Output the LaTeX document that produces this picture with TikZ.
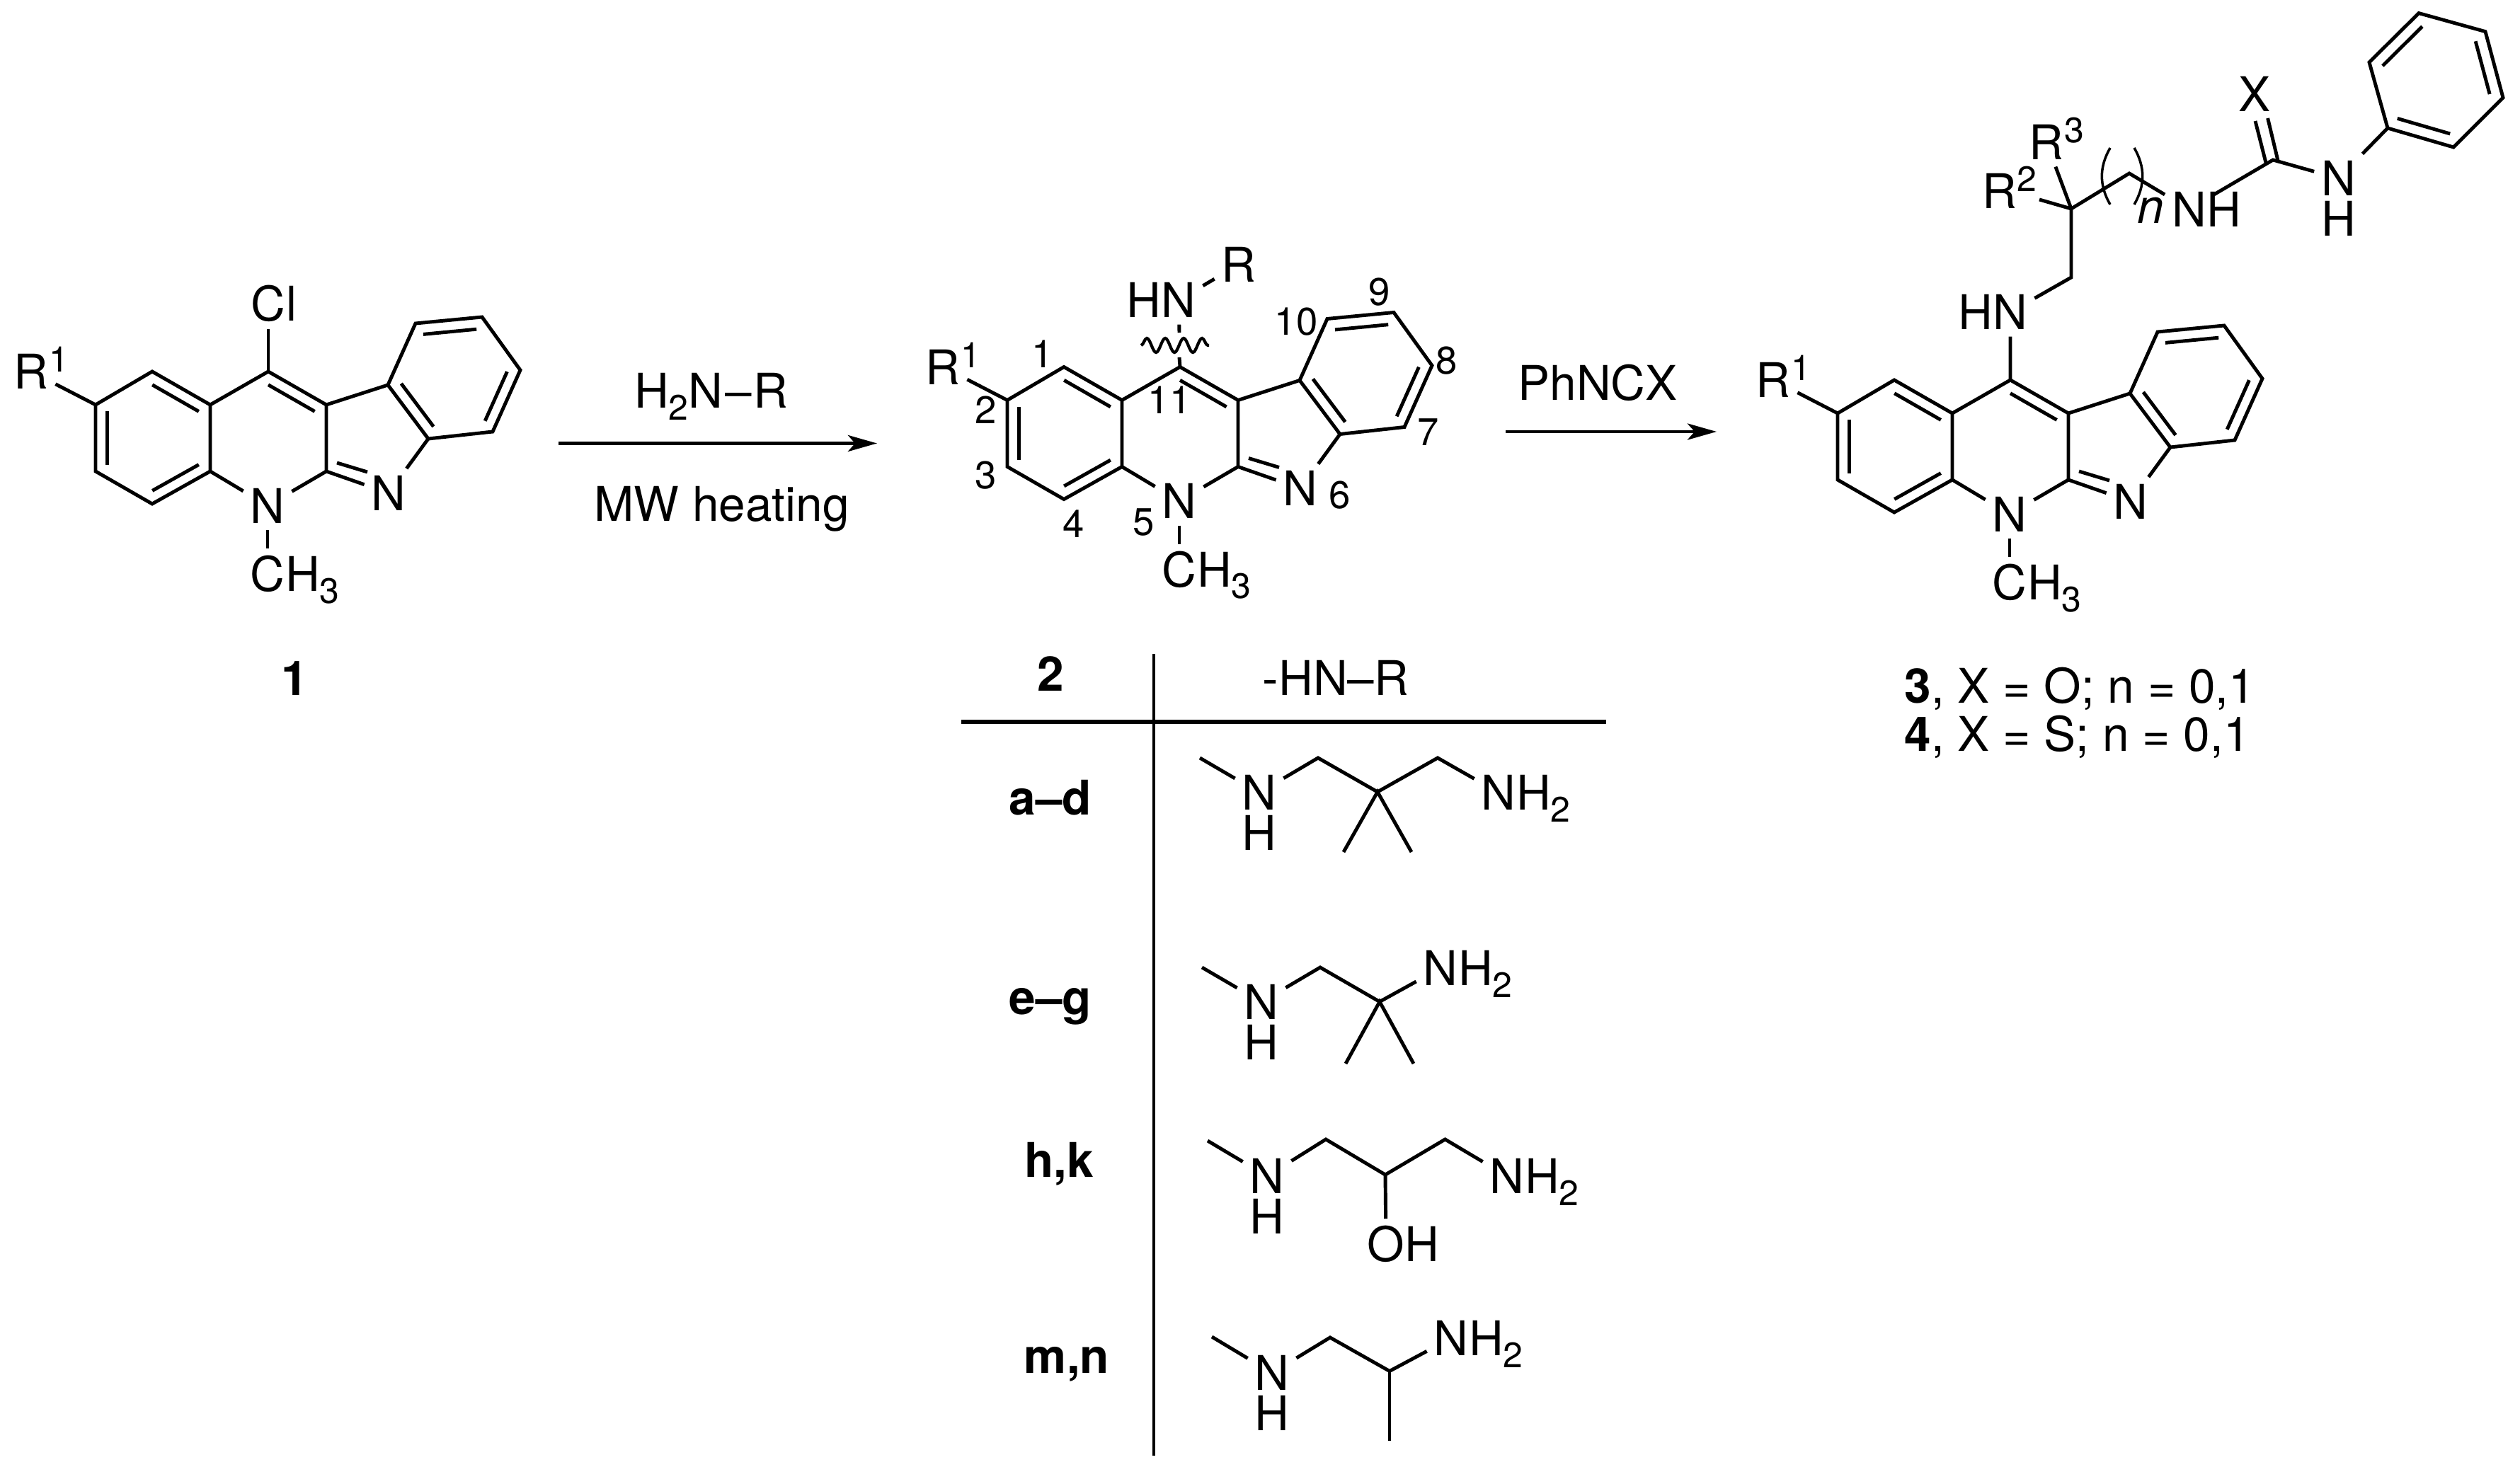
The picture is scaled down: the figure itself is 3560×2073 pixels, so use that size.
\documentclass[tikz,border=0pt]{standalone}
\usepackage{fontspec}
\setmainfont{TeX Gyre Heros}
\usetikzlibrary{calc,arrows.meta,decorations.pathmorphing}
\newcommand{\dn}[1]{\raisebox{-.165cm}{\fontsize{14.2}{14.2}\selectfont #1}}
\newcommand{\up}[1]{\raisebox{.24cm}{\fontsize{14.2}{14.2}\selectfont #1}}
\newcommand{\inbond}[3]{\draw[bond] ($(#1)!.2!(#3)$) -- ($(#2)!.2!(#3)$);}
\tikzset{
  atom/.style={inner sep=.1cm,outer sep=0pt},
  after/.style={inner sep=0pt,anchor=base west,xshift=-.1cm},
  before/.style={inner sep=0pt,anchor=base east,xshift=.1cm},
  under/.style={inner sep=0pt,anchor=base,yshift=-.57cm},
  txt/.style={inner sep=0pt,anchor=base},
  num/.style={inner sep=0pt,font=\fontsize{15.5}{15.5}\selectfont},
  bond/.style={line width=1.4pt,line join=miter},
  rxn/.style={line width=1.4pt,-{Stealth[length=.41cm,width=.23cm,inset=.1cm]}},
  core/.pic={
    \coordinate (-c1) at (135,572);
    \coordinate (-c2) at (215,525);
    \coordinate (-c3) at (297,572);
    \coordinate (-c4) at (297,666);
    \coordinate (-c5) at (215,712);
    \coordinate (-c6) at (135,666);
    \coordinate (-c7) at (379,525);
    \coordinate (-c8) at (461,572);
    \coordinate (-c9) at (461,666);
    \coordinate (-c10) at (548,544);
    \coordinate (-c11) at (605,620);
    \coordinate (-c12) at (696,610);
    \coordinate (-c13) at (735,523);
    \coordinate (-c14) at (681,448);
    \coordinate (-c15) at (587,457);
    \coordinate (-ringA) at (216,619);
    \coordinate (-ringB) at (379,619);
    \coordinate (-ringD) at (642,534);
    \coordinate (-i1) at (476,654);
    \coordinate (-i2) at (519,667);
    \node[atom] (-N1) at (378,714.5) {N};
    \node[atom] (-N2) at (549,696.7) {N};
    \node[atom] (-Me) at (378,811) {C};
    \node[after] (-Me3) at (-Me.base east) {H\dn{3}};
    \node[atom] (-R) at (44,525) {R};
    \node[after] (-R1) at (-R.base east) {\up{1}};
    \draw[bond] (-c1) -- (-c2) -- (-c3) -- (-c4) -- (-c5) -- (-c6) -- cycle;
    \draw[bond] (-c3) -- (-c7) -- (-c8) -- (-c9);
    \draw[bond] (-c4) -- (-N1) -- (-c9) -- (-N2) -- (-c11);
    \draw[bond] (-c8) -- (-c10);
    \draw[bond] (-c10) -- (-c15) -- (-c14) -- (-c13) -- (-c12) -- (-c11) -- cycle;
    \draw[bond] (-N1) -- (-Me);
    \draw[bond] (-R) -- (-c1);
    \inbond{-c1}{-c6}{-ringA}
    \inbond{-c2}{-c3}{-ringA}
    \inbond{-c4}{-c5}{-ringA}
    \inbond{-c7}{-c8}{-ringB}
    \inbond{-c14}{-c15}{-ringD}
    \inbond{-c12}{-c13}{-ringD}
    \inbond{-c10}{-c11}{-ringD}
    \draw[bond] (-i1) -- (-i2);
  }
}
\begin{document}
\begin{tikzpicture}[x=.01cm,y=-.01cm,font=\fontsize{19.2}{23}\selectfont]
  \useasboundingbox (0,0) rectangle (3560,2073);

  % starting material
  \pic (A) at (0,0) {core};
  \node[atom] (ACl) at (379,429) {C};
  \node[after] (ACll) at (ACl.base east) {l};
  \draw[bond] (A-c7) -- (ACl);
  \node[txt,font=\fontsize{19.2}{23}\selectfont\bfseries] (one) at (416,982.5) {1};

  % first step
  \coordinate (arrAs) at (789,626.5);
  \coordinate (arrAe) at (1239,626.5);
  \draw[rxn] (arrAs) -- (arrAe);
  \node[txt] (amine) at (1005,577) {H\dn{2}N\kern.03cm--\kern.03cm R};
  \node[txt] (heat) at (1019.5,736) {MW heating};

  % product 2 with its numbering
  \pic (B) at (1288,-6.5) {core};
  \node[atom] (BN) at (1665,424) {N};
  \node[before] (BH) at (BN.base west) {H};
  \node[atom] (BR) at (1750,374) {R};
  \coordinate (wavL) at (1612,488);
  \coordinate (wavR) at (1708,488);
  \coordinate (gapT) at (1666,470);
  \coordinate (gapB) at (1666,505);
  \draw[bond] (BN) -- (BR);
  \draw[bond] (BN) -- (gapT);
  \draw[bond] (gapB) -- (B-c7);
  \draw[line width=1.2pt,decorate,decoration={snake,segment length=.26cm,amplitude=.1cm}] (wavL) -- (wavR);
  \node[num] (n1) at (1473,500) {1};
  \node[num] (n2) at (1392.5,579) {2};
  \node[num] (n3) at (1392.5,672) {3};
  \node[num] (n4) at (1517,740) {4};
  \node[num] (n5) at (1616,738) {5};
  \node[num] (n6) at (1893,700) {6};
  \node[num] (n7) at (2018,611) {7};
  \node[num] (n8) at (2044,510) {8};
  \node[num] (n9) at (1949,413) {9};
  \node[num] (n10) at (1831,455) {10};
  \node[num] (n11) at (1652,565) {11};

  % second step
  \coordinate (arrBs) at (2127,610);
  \coordinate (arrBe) at (2425,610);
  \draw[rxn] (arrBs) -- (arrBe);
  \node[txt] (iso) at (2257,565) {PhNCX};

  % product 3/4
  \pic (C) at (2461,12) {core};
  \node[atom] (CN) at (2840,441) {N};
  \node[before] (CH) at (CN.base west) {H};
  \coordinate (cha) at (2926,392);
  \coordinate (chq) at (2926,295);
  \coordinate (chb) at (3008,245);
  \node[atom] (NHa) at (3092.5,295.5) {N};
  \node[after] (NHb) at (NHa.base east) {H};
  \node[atom] (Rtwo) at (2824.5,270) {R};
  \node[after] (Rtwos) at (Rtwo.base east) {\up{2}};
  \node[atom] (Rthree) at (2891,201) {R};
  \node[after] (Rthrees) at (Rthree.base east) {\up{3}};
  \coordinate (Rstub) at (2881,282);
  \draw[bond] (C-c7) -- (CN) -- (cha) -- (chq) -- (chb) -- (NHa);
  \draw[bond] (chq) -- (Rstub);
  \draw[bond] (chq) -- (Rthree);
  \coordinate (brLa) at (2981,209);
  \coordinate (brLb) at (2981,289);
  \coordinate (brRa) at (3015,209);
  \coordinate (brRb) at (3015,289);
  \draw[line width=1pt] (brLa) to[bend right=30] (brLb);
  \draw[line width=1pt] (brRa) to[bend left=30] (brRb);
  \node[txt] (nn) at (3038,316) {\itshape n};
  \coordinate (cu) at (3211,226);
  \node[atom] (X) at (3185,132.5) {X};
  \coordinate (xa) at (3203.6,167);
  \coordinate (xb) at (3218,227);
  \coordinate (xc) at (3186,171);
  \coordinate (xd) at (3201,230);
  \draw[bond] (xa) -- (xb);
  \draw[bond] (xc) -- (xd);
  \node[atom] (NHc) at (3303.5,252) {N};
  \node[under] (NHd) at (NHc.base) {H};
  \draw[bond] (NHa) -- (cu) -- (NHc);
  \coordinate (pa) at (3417,18.6);
  \coordinate (pb) at (3511,44.6);
  \coordinate (pc) at (3536,138);
  \coordinate (pd) at (3466,208);
  \coordinate (pe) at (3373,181);
  \coordinate (pf) at (3347,88);
  \coordinate (ringP) at (3441.7,113);
  \draw[bond] (pa) -- (pb) -- (pc) -- (pd) -- (pe) -- (pf) -- cycle;
  \draw[bond] (NHc) -- (pe);
  \inbond{pa}{pf}{ringP}
  \inbond{pb}{pc}{ringP}
  \inbond{pd}{pe}{ringP}
  \node[inner sep=0pt,anchor=base west] (capA) at (2690,993) {\textbf{3}, X = O; n = 0,1};
  \node[inner sep=0pt,anchor=base west] (capB) at (2690,1061.6) {\textbf{4}, X = S; n = 0,1};

  % table
  \coordinate (tabT) at (1630,924);
  \coordinate (tabB) at (1630,2057);
  \coordinate (tabL) at (1358,1020);
  \coordinate (tabR) at (2269,1020);
  \draw[line width=1.2pt] (tabT) -- (tabB);
  \draw[line width=1.6pt] (tabL) -- (tabR);
  \node[txt,font=\fontsize{19.2}{23}\selectfont\bfseries] (headA) at (1484,976.5) {2};
  \node[txt] (headB) at (1887,982) {-HN--R};
  \node[txt,font=\fontsize{19.2}{23}\selectfont\bfseries] (rowA) at (1484,1151) {a--d};
  \node[txt,font=\fontsize{19.2}{23}\selectfont\bfseries] (rowE) at (1484,1433) {e--g};
  \node[txt,font=\fontsize{19.2}{23}\selectfont\bfseries] (rowH) at (1496,1663) {h,k};
  \node[txt,font=\fontsize{19.2}{23}\selectfont\bfseries] (rowM) at (1507,1940) {m,n};

  % a-d
  \coordinate (ame) at (1695,1071);
  \node[atom] (aN) at (1779,1120) {N};
  \node[under] (aH) at (aN.base) {H};
  \coordinate (ac1) at (1862,1071);
  \coordinate (acq) at (1946,1119);
  \coordinate (ac2) at (2031,1071);
  \node[atom] (aNt) at (2117,1120) {N};
  \node[after] (aHt) at (aNt.base east) {H\dn{2}};
  \coordinate (am1) at (1898,1204);
  \coordinate (am2) at (1994,1204);
  \draw[bond] (ame) -- (aN) -- (ac1) -- (acq) -- (ac2) -- (aNt);
  \draw[bond] (am1) -- (acq) -- (am2);

  % e-g
  \coordinate (eme) at (1698,1367);
  \node[atom] (eN) at (1782,1416) {N};
  \node[under] (eH) at (eN.base) {H};
  \coordinate (ec1) at (1865,1367);
  \coordinate (ecq) at (1949,1415.5);
  \node[atom] (eNt) at (2035,1368) {N};
  \node[after] (eHt) at (eNt.base east) {H\dn{2}};
  \coordinate (em1) at (1901,1503);
  \coordinate (em2) at (1997,1503);
  \draw[bond] (eme) -- (eN) -- (ec1) -- (ecq) -- (eNt);
  \draw[bond] (em1) -- (ecq) -- (em2);

  % h,k
  \coordinate (hme) at (1706,1612);
  \node[atom] (hN) at (1790,1662) {N};
  \node[under] (hH) at (hN.base) {H};
  \coordinate (hc1) at (1873,1610);
  \coordinate (hcq) at (1957,1660);
  \coordinate (hc2) at (2041.5,1610);
  \node[atom] (hNt) at (2129,1662) {N};
  \node[after] (hHt) at (hNt.base east) {H\dn{2}};
  \node[atom] (hO) at (1958,1758) {O};
  \node[after] (hOH) at (hO.base east) {H};
  \draw[bond] (hme) -- (hN) -- (hc1) -- (hcq) -- (hc2) -- (hNt);
  \draw[bond] (hcq) -- (hO);

  % m,n
  \coordinate (mme) at (1712,1889);
  \node[atom] (mN) at (1797,1940) {N};
  \node[under] (mH) at (mN.base) {H};
  \coordinate (mc1) at (1879,1890);
  \coordinate (mcq) at (1963,1937.5);
  \coordinate (mm1) at (1963,2036);
  \node[atom] (mNt) at (2050,1891) {N};
  \node[after] (mHt) at (mNt.base east) {H\dn{2}};
  \draw[bond] (mme) -- (mN) -- (mc1) -- (mcq) -- (mNt);
  \draw[bond] (mcq) -- (mm1);
\end{tikzpicture}
\end{document}
